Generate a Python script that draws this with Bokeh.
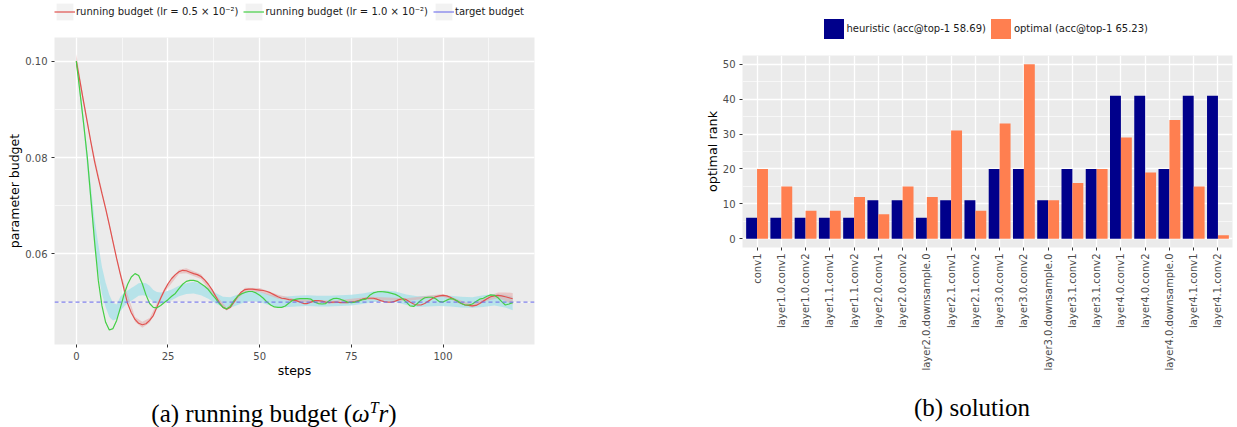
import math
from bokeh.plotting import figure
from bokeh.models import (Range1d, SingleIntervalTicker, FixedTicker, PrintfTickFormatter,
                          Legend, LegendItem, Span, Div)
from bokeh.layouts import row, column
from bokeh.embed import file_html
from bokeh.resources import INLINE

steps = list(range(120))
budget_lr05 = [
    0.1000, 0.0958, 0.0915, 0.0873, 0.0831, 0.0791, 0.0757, 0.0725, 0.0694, 0.0660,
    0.0625, 0.0590, 0.0558, 0.0527, 0.0497, 0.0478, 0.0464, 0.0456, 0.0453, 0.0455,
    0.0462, 0.0472, 0.0490, 0.0508, 0.0524, 0.0538, 0.0549, 0.0557, 0.0563, 0.0566,
    0.0565, 0.0562, 0.0559, 0.0557, 0.0553, 0.0546, 0.0537, 0.0526, 0.0512, 0.0499,
    0.0489, 0.0485, 0.0489, 0.0500, 0.0512, 0.0521, 0.0526, 0.0527, 0.0527, 0.0526,
    0.0525, 0.0524, 0.0522, 0.0519, 0.0515, 0.0511, 0.0508, 0.0507, 0.0505, 0.0504,
    0.0503, 0.0500, 0.0497, 0.0497, 0.0500, 0.0503, 0.0503, 0.0502, 0.0500, 0.0499,
    0.0500, 0.0500, 0.0499, 0.0499, 0.0499, 0.0500, 0.0501, 0.0503, 0.0506, 0.0508,
    0.0508, 0.0508, 0.0506, 0.0503, 0.0501, 0.0500, 0.0500, 0.0502, 0.0505, 0.0507,
    0.0505, 0.0500, 0.0496, 0.0494, 0.0494, 0.0497, 0.0502, 0.0507, 0.0511, 0.0513,
    0.0514, 0.0513, 0.0510, 0.0506, 0.0501, 0.0497, 0.0494, 0.0493, 0.0492, 0.0493,
    0.0497, 0.0502, 0.0507, 0.0511, 0.0513, 0.0514, 0.0513, 0.0511, 0.0509, 0.0507,
]
budget_lr10 = [
    0.1000, 0.0935, 0.0870, 0.0800, 0.0712, 0.0624, 0.0545, 0.0492, 0.0458, 0.0442,
    0.0445, 0.0462, 0.0488, 0.0515, 0.0537, 0.0552, 0.0559, 0.0555, 0.0538, 0.0515,
    0.0497, 0.0489, 0.0488, 0.0493, 0.0499, 0.0505, 0.0512, 0.0518, 0.0528, 0.0537,
    0.0543, 0.0545, 0.0545, 0.0543, 0.0538, 0.0533, 0.0526, 0.0516, 0.0507, 0.0497,
    0.0489, 0.0486, 0.0491, 0.0503, 0.0512, 0.0517, 0.0520, 0.0522, 0.0522, 0.0519,
    0.0514, 0.0508, 0.0500, 0.0494, 0.0490, 0.0489, 0.0489, 0.0492, 0.0498, 0.0504,
    0.0506, 0.0507, 0.0507, 0.0507, 0.0506, 0.0500, 0.0497, 0.0496, 0.0497, 0.0503,
    0.0507, 0.0508, 0.0506, 0.0503, 0.0500, 0.0499, 0.0500, 0.0502, 0.0505, 0.0506,
    0.0514, 0.0519, 0.0521, 0.0522, 0.0521, 0.0520, 0.0518, 0.0516, 0.0512, 0.0507,
    0.0500, 0.0492, 0.0491, 0.0497, 0.0504, 0.0509, 0.0510, 0.0510, 0.0507, 0.0501,
    0.0500, 0.0504, 0.0507, 0.0506, 0.0502, 0.0497, 0.0494, 0.0494, 0.0496, 0.0501,
    0.0506, 0.0508, 0.0512, 0.0515, 0.0514, 0.0509, 0.0501, 0.0494, 0.0496, 0.0499,
]
target_budget = 0.05

band10_steps = [0, 2, 4, 5, 6, 7, 8, 9, 10, 11, 12, 13, 14, 15, 16, 17, 18, 19, 20, 21,
                22, 23, 24, 26, 28, 30, 32, 34, 36, 38, 40, 42, 44, 46, 48, 50, 52, 54,
                56, 58, 60, 63, 66, 69, 72, 75, 78, 81, 84, 87, 90, 93, 96, 99, 102, 105,
                108, 111, 114, 117, 119]
band10_mid = [0.1000, 0.0870, 0.0718, 0.0640, 0.0590, 0.0545, 0.0515, 0.0492, 0.0480, 0.0480,
              0.0496, 0.0505, 0.0511, 0.0516, 0.0521, 0.0526, 0.0527, 0.0526, 0.0521, 0.0513,
              0.0509, 0.0508, 0.0510, 0.0515, 0.0523, 0.0528, 0.0530, 0.0526, 0.0518, 0.0508,
              0.0500, 0.0499, 0.0505, 0.0511, 0.0513, 0.0511, 0.0506, 0.0502, 0.0500, 0.0501,
              0.0502, 0.0503, 0.0502, 0.0502, 0.0503, 0.0504, 0.0507, 0.0511, 0.0513, 0.0511,
              0.0505, 0.0501, 0.0502, 0.0503, 0.0502, 0.0500, 0.0499, 0.0502, 0.0505, 0.0502,
              0.0497]
band10_half = [0.0005, 0.0012, 0.0020, 0.0030, 0.0030, 0.0028, 0.0025, 0.0023, 0.0018, 0.0015,
               0.0015, 0.0014, 0.0013, 0.0013, 0.0013, 0.0013, 0.0013, 0.0013, 0.0013, 0.0012,
               0.0012, 0.0012, 0.0011, 0.0011, 0.0011, 0.0011, 0.0012, 0.0012, 0.0011, 0.0011,
               0.0011, 0.0011, 0.0011, 0.0011, 0.0011, 0.0011, 0.0011, 0.0011, 0.0011, 0.0011,
               0.0011, 0.0011, 0.0011, 0.0011, 0.0011, 0.0011, 0.0011, 0.0011, 0.0011, 0.0011,
               0.0011, 0.0011, 0.0011, 0.0011, 0.0011, 0.0011, 0.0011, 0.0012, 0.0012, 0.0013,
               0.0014]
band05_steps = [0, 1, 2, 4, 8, 12, 16, 18, 20, 24, 28, 30, 34, 38, 41, 46, 50, 55, 60, 70,
                80, 90, 100, 108, 112, 115, 117, 119]
band05_half = [0.0015, 0.0010, 0.0006, 0.0004, 0.0004, 0.0004, 0.0005, 0.0006, 0.0005, 0.0004,
               0.0004, 0.0005, 0.0005, 0.0004, 0.0003, 0.0004, 0.0004, 0.0004, 0.0003, 0.0003,
               0.0003, 0.0003, 0.0003, 0.0003, 0.0004, 0.0006, 0.0009, 0.0012]

layers = ["conv1", "layer1.0.conv1", "layer1.0.conv2", "layer1.1.conv1", "layer1.1.conv2",
          "layer2.0.conv1", "layer2.0.conv2", "layer2.0.downsample.0", "layer2.1.conv1",
          "layer2.1.conv2", "layer3.0.conv1", "layer3.0.conv2", "layer3.0.downsample.0",
          "layer3.1.conv1", "layer3.1.conv2", "layer4.0.conv1", "layer4.0.conv2",
          "layer4.0.downsample.0", "layer4.1.conv1", "layer4.1.conv2"]
heuristic_rank = [6, 6, 6, 6, 6, 11, 11, 6, 11, 11, 20, 20, 11, 20, 20, 41, 41, 20, 41, 41]
optimal_rank = [20, 15, 8, 8, 12, 7, 15, 12, 31, 8, 33, 50, 11, 16, 20, 29, 19, 34, 15, 1]
heuristic_label = "heuristic (acc@top-1 58.69)"
optimal_label = "optimal (acc@top-1 65.23)"
legend_labels = ["running budget (lr = 0.5 \u00d7 10\u207b\u00b2)",
                 "running budget (lr = 1.0 \u00d7 10\u207b\u00b2)",
                 "target budget"]

FONT = "DejaVu Sans"
PANEL = "#EBEBEB"
RED = "#E0524F"
GREEN = "#45CF45"
BLUE = "#6E6EEA"
NAN = float("nan")
W1, W2 = 560, 677
L1, L2 = 27, 45          # heights of legend strips
T = 10                   # top border of both main plots
B1, B2 = 51, 148         # bottom borders


def style_axes(p):
    for ax in (p.xaxis[0], p.yaxis[0]):
        ax.axis_line_color = None
        ax.major_tick_line_color = "#333333"
        ax.major_tick_out = 3
        ax.major_tick_in = 0
        ax.minor_tick_line_color = None
        ax.major_label_text_font = FONT
        ax.major_label_text_font_size = "10px"
        ax.major_label_text_color = "#4D4D4D"
        ax.major_label_standoff = 3
        ax.axis_label_text_font = FONT
        ax.axis_label_text_font_size = "12.5px"
        ax.axis_label_text_font_style = "normal"
        ax.axis_label_text_color = "black"
    for g in (p.xgrid[0], p.ygrid[0]):
        g.grid_line_color = "white"
        g.grid_line_width = 1.3
    p.ygrid[0].minor_grid_line_color = "white"
    p.ygrid[0].minor_grid_line_width = 0.6


def legend_strip(width, height):
    f = figure(output_backend="svg", toolbar_location=None, width=width, height=height,
               x_axis_type=None, y_axis_type=None, x_range=Range1d(0, 1), y_range=Range1d(0, 1),
               min_border=0, outline_line_color=None, background_fill_color="white",
               border_fill_color="white", align="start")
    f.grid.visible = False
    return f


# ---------------- left panel ----------------
p1 = figure(output_backend="svg", toolbar_location=None,
            frame_width=480, frame_height=307,
            min_border_left=54, min_border_right=W1 - 54 - 480, min_border_top=T,
            min_border_bottom=B1, align="start",
            x_range=Range1d(-5.95, 124.95), y_range=Range1d(0.0412, 0.1049),
            background_fill_color=PANEL, border_fill_color="white", outline_line_color=None)
p1.xaxis.ticker = SingleIntervalTicker(interval=25, num_minor_ticks=2)
p1.yaxis.ticker = SingleIntervalTicker(interval=0.02, num_minor_ticks=2)
p1.yaxis.formatter = PrintfTickFormatter(format="%.2f")
p1.xaxis.axis_label = "steps"
p1.yaxis.axis_label = "parameter budget"
style_axes(p1)
p1.xgrid[0].minor_grid_line_color = "white"
p1.xgrid[0].minor_grid_line_width = 0.6
p1.xaxis.axis_label_standoff = 0
p1.yaxis.axis_label_standoff = 0

lo10 = [m - h for m, h in zip(band10_mid, band10_half)]
hi10 = [m + h for m, h in zip(band10_mid, band10_half)]
p1.varea(x=band10_steps, y1=lo10, y2=hi10, fill_color="#A6E0E8", fill_alpha=0.75)
lo05 = [budget_lr05[s] - h for s, h in zip(band05_steps, band05_half)]
hi05 = [budget_lr05[s] + h for s, h in zip(band05_steps, band05_half)]
p1.varea(x=band05_steps, y1=lo05, y2=hi05, fill_color="#E6A8A8", fill_alpha=0.55)
p1.line(steps, budget_lr05, line_color=RED, line_width=1.2)
p1.line(steps, budget_lr10, line_color=GREEN, line_width=1.2)
p1.add_layout(Span(location=target_budget, dimension="width", line_color=BLUE,
                   line_alpha=0.85, line_width=1.3, line_dash="4 3"))

lg1 = legend_strip(W1, L1)
k_bg = lg1.rect(x=[NAN], y=[NAN], width=1, height=1, fill_color="#F2F2F2", line_color=None)
k_red = lg1.line(x=[NAN], y=[NAN], line_color=RED, line_width=1.2)
k_green = lg1.line(x=[NAN], y=[NAN], line_color=GREEN, line_width=1.2)
k_blue = lg1.line(x=[NAN], y=[NAN], line_color=BLUE, line_alpha=0.85, line_width=1.3)
leg1 = Legend(items=[LegendItem(label=legend_labels[0], renderers=[k_bg, k_red]),
                     LegendItem(label=legend_labels[1], renderers=[k_bg, k_green]),
                     LegendItem(label=legend_labels[2], renderers=[k_bg, k_blue])],
              orientation="horizontal", location=(0, 5),
              glyph_width=21, glyph_height=21, label_standoff=1, spacing=5, padding=0, margin=0,
              label_text_font=FONT, label_text_font_size="10px", label_text_color="#1A1A1A",
              label_height=21, border_line_color=None, background_fill_alpha=0)
lg1.add_layout(leg1)

# ---------------- right panel ----------------
xpos = [i + 1 for i in range(len(layers))]
p2 = figure(output_backend="svg", toolbar_location=None,
            frame_width=490, frame_height=192,
            min_border_left=742 - W1, min_border_right=W2 - (742 - W1) - 490, min_border_top=T,
            min_border_bottom=B2, align="start",
            x_range=Range1d(0.4, len(layers) + 0.6), y_range=Range1d(-2.5, 52.5),
            background_fill_color=PANEL, border_fill_color="white", outline_line_color=None)
p2.xaxis.ticker = FixedTicker(ticks=xpos)
p2.xaxis.major_label_overrides = {x: name for x, name in zip(xpos, layers)}
p2.xaxis.major_label_orientation = math.pi / 2
p2.yaxis.ticker = SingleIntervalTicker(interval=10, num_minor_ticks=2)
p2.yaxis.axis_label = "optimal rank"
style_axes(p2)
p2.yaxis.axis_label_text_font_size = "12.8px"
p2.yaxis.axis_label_standoff = 0

p2.vbar(x=[x - 0.225 for x in xpos], top=heuristic_rank, bottom=0, width=0.45,
        fill_color="#00008B", line_color=None)
p2.vbar(x=[x + 0.225 for x in xpos], top=optimal_rank, bottom=0, width=0.45,
        fill_color="#FF7F50", line_color=None)

lg2 = legend_strip(W2, L2)
k_h = lg2.vbar(x=[NAN], top=[NAN], width=0.1, fill_color="#00008B", line_color=None)
k_o = lg2.vbar(x=[NAN], top=[NAN], width=0.1, fill_color="#FF7F50", line_color=None)
leg2 = Legend(items=[LegendItem(label=heuristic_label, renderers=[k_h]),
                     LegendItem(label=optimal_label, renderers=[k_o])],
              orientation="horizontal", location=(78.5, 4.5),
              glyph_width=25, glyph_height=25, label_standoff=1, spacing=2, padding=0, margin=0,
              label_text_font=FONT, label_text_font_size="10px", label_text_color="#1A1A1A",
              label_height=25, border_line_color=None, background_fill_alpha=0)
lg2.add_layout(leg2)

# ---------------- captions ----------------
cap_style = ("position:absolute;top:0px;transform:translateX(-50%);white-space:nowrap;"
             "font-family:'Liberation Serif';font-size:25px;line-height:25px;color:black;")
caption_a = ("(a)&nbsp;running budget (<i>&omega;</i><sup style='font-size:16px'><i>T</i></sup>"
             "<i>r</i>)")
caption_b = "(b)&nbsp;solution"
captions = Div(text=(f"<div style='position:relative;width:1237px;height:30px'>"
                     f"<span style=\"{cap_style}left:274px\">{caption_a}</span>"
                     f"<span style=\"{cap_style}left:972px\">{caption_b}</span></div>"),
               width=1237, height=30, margin=0, align="start")

panels = row(column(lg1, p1, align="start"), column(lg2, p2, align="start"), align="start")
layout = column(panels, captions)
open("out.html", "w").write(file_html(layout, INLINE))
